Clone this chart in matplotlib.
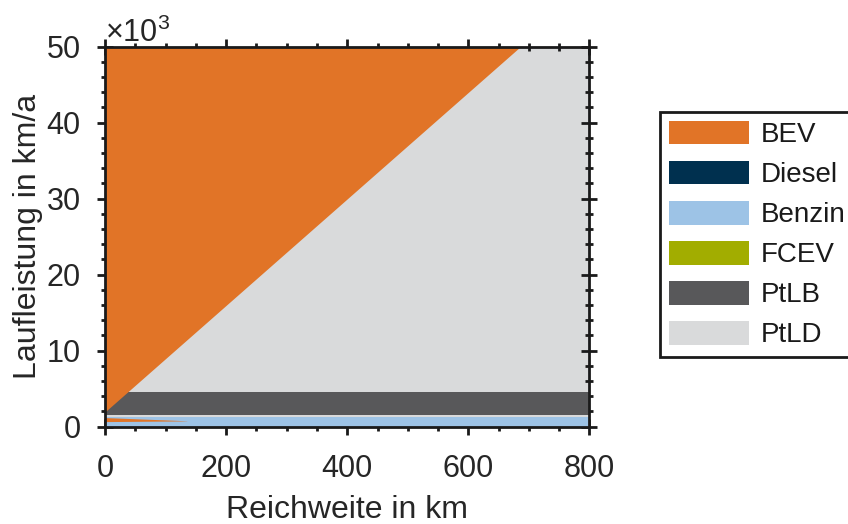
import matplotlib
matplotlib.use("Agg")
import matplotlib.pyplot as plt
from matplotlib.patches import Patch
from matplotlib.ticker import MultipleLocator, ScalarFormatter

plt.rcParams["font.family"] = ["Liberation Sans", "DejaVu Sans"]
plt.rcParams["mathtext.fontset"] = "custom"
plt.rcParams["mathtext.rm"] = "Liberation Sans"
plt.rcParams["font.size"] = 23

# technology names and colours
techs = ["BEV", "Diesel", "Benzin", "FCEV", "PtLB", "PtLD"]
colors = ["#E17427", "#00304F", "#9DC3E6", "#A2AD00", "#58585A", "#D9DADB"]

# axis ranges (Reichweite in km, Laufleistung in km/a)
x_range = [0, 800]
y_range = [0, 50000]

# boundary BEV / PtLD (above the line BEV is cheapest)
bev_x = [0, 686, 800]
bev_y = [1950, 50000, 50000]

# horizontal bands at low mileage
benzin_band = [0, 1300]
ptld_band = [1300, 1500]
ptlb_band = [1500, 4500]

# small BEV wedge at short range / low mileage
wedge_x = [0, 135]
wedge_lo = [650, 740]
wedge_hi = [1180, 760]

fig = plt.figure(figsize=(8.48, 5.24), dpi=100)
ax = fig.add_axes([0.124, 0.186, 0.571, 0.725])

c = dict(zip(techs, colors))
ax.fill_between(x_range, y_range[0], y_range[1], color=c["PtLD"], lw=0, zorder=1)
ax.fill_between(x_range, ptlb_band[0], ptlb_band[1], color=c["PtLB"], lw=0, zorder=2)
ax.fill_between(x_range, ptld_band[0], ptld_band[1], color=c["PtLD"], lw=0, zorder=2)
ax.fill_between(x_range, benzin_band[0], benzin_band[1], color=c["Benzin"], lw=0, zorder=2)
ax.fill_between(bev_x, bev_y, y_range[1], color=c["BEV"], lw=0, zorder=3)
ax.fill_between(wedge_x, wedge_lo, wedge_hi, color=c["BEV"], lw=0, zorder=3)

ax.set_xlim(x_range)
ax.set_ylim(y_range)
ax.xaxis.set_major_locator(MultipleLocator(200))
ax.xaxis.set_minor_locator(MultipleLocator(50))
ax.yaxis.set_major_locator(MultipleLocator(10000))
ax.yaxis.set_minor_locator(MultipleLocator(2000))
fmt = ScalarFormatter(useMathText=True)
fmt.set_powerlimits((3, 3))
ax.yaxis.set_major_formatter(fmt)
ax.yaxis.get_offset_text().set_fontsize(22)
ax.yaxis.get_offset_text().set_color("#262626")

ax.tick_params(which="both", direction="inout", top=True, right=True,
               color="#1a1a1a", width=2, labelcolor="#262626", labelsize=22,
               zorder=10)
ax.tick_params(which="major", length=11)
ax.tick_params(which="minor", length=6)
ax.tick_params(axis="x", which="major", pad=14)
ax.tick_params(axis="y", which="major", pad=12)
for s in ax.spines.values():
    s.set_linewidth(2)
    s.set_color("#1a1a1a")
    s.set_zorder(10)

ax.set_xlabel("Reichweite in km", color="#262626", labelpad=8)
ax.set_ylabel("Laufleistung in km/a", color="#262626", labelpad=2)

handles = [Patch(facecolor=col, edgecolor="none") for col in colors]
leg = fig.legend(handles, techs, loc="upper left", bbox_to_anchor=(0.778, 0.787),
                 frameon=True, fancybox=False, edgecolor="#1a1a1a", framealpha=1,
                 handlelength=2.9, handleheight=0.95, handletextpad=0.4,
                 labelspacing=0.45, borderpad=0.32, borderaxespad=0, fontsize=20)
leg.get_frame().set_linewidth(2)
for t in leg.get_texts():
    t.set_color("#1a1a1a")

fig.savefig("out.png", dpi=100)
